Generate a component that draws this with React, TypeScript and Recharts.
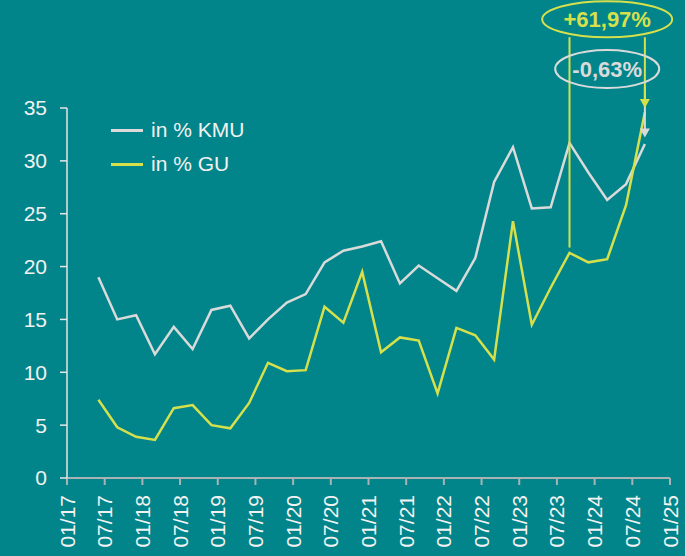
import React from "react";
import { LineChart, Line, XAxis, YAxis, Legend, ReferenceLine, ReferenceDot } from "recharts";

// months since 01/2017, one point per quarter
const months = [5, 8, 11, 14, 17, 20, 23, 26, 29, 32, 35, 38, 41, 44, 47, 50, 53, 56, 59, 62, 65, 68, 71, 74, 77, 80, 83, 86, 89, 92];
const kmu = [19.0, 15.0, 15.4, 11.7, 14.3, 12.2, 15.9, 16.3, 13.2, 15.0, 16.6, 17.4, 20.4, 21.5, 21.9, 22.4, 18.4, 20.1, 18.9, 17.7, 20.8, 28.0, 31.3, 25.5, 25.6, 31.7, 28.9, 26.3, 27.8, 31.6];
const gu = [7.4, 4.8, 3.9, 3.6, 6.6, 6.9, 5.0, 4.7, 7.1, 10.9, 10.1, 10.2, 16.2, 14.7, 19.5, 11.9, 13.3, 13.0, 8.0, 14.2, 13.5, 11.2, 24.3, 14.5, 18.0, 21.3, 20.4, 20.7, 25.8, 34.6];

const xTickMonths = [0, 6, 12, 18, 24, 30, 36, 42, 48, 54, 60, 66, 72, 78, 84, 90, 96];
const xTickLabels = ["01/17", "07/17", "01/18", "07/18", "01/19", "07/19", "01/20", "07/20", "01/21", "07/21", "01/22", "07/22", "01/23", "07/23", "01/24", "07/24", "01/25"];
const yTicks = [0, 5, 10, 15, 20, 25, 30, 35];

const seriesNames = ["in % KMU", "in % GU"];
const guChangeLabel = "+61,97%";
const kmuChangeLabel = "-0,63%";

const BG = "#01858a";
const GREY = "#dadada";
const YELLOW = "#d6e04c";
const TEXT = "#f2f2f2";
const FONT = "'Liberation Sans', Arial, sans-serif";

const data = months.map((m, i) => ({ month: m, kmu: kmu[i], gu: gu[i] }));

function XTick(props: any) {
  const { x, y, payload } = props;
  const idx = xTickMonths.indexOf(payload.value);
  return (
    <text
      x={x}
      y={y}
      transform={`rotate(-90 ${x} ${y})`}
      textAnchor="end"
      dy="0.36em"
      fill={TEXT}
      fontSize={21}
      fontFamily={FONT}
    >
      {xTickLabels[idx]}
    </text>
  );
}

function ovalLabel(text: string, color: string, rx: number, ry: number) {
  return (props: any) => (
    <g>
      <ellipse cx={props.cx} cy={props.cy} rx={rx} ry={ry} fill="none" stroke={color} strokeWidth={2} />
      <text
        x={props.cx}
        y={props.cy}
        dy="0.36em"
        textAnchor="middle"
        fill={color}
        fontSize={22}
        fontWeight="bold"
        fontFamily={FONT}
      >
        {text}
      </text>
    </g>
  );
}

function arrowLine(color: string, head: boolean) {
  return (props: any) => {
    const { x1, y1, x2, y2 } = props;
    return (
      <g>
        <line x1={x1} y1={y1} x2={x2} y2={head ? y2 - 6 : y2} stroke={color} strokeWidth={2} />
        {head && <polygon points={`${x2 - 5},${y2 - 9} ${x2 + 5},${y2 - 9} ${x2},${y2}`} fill={color} />}
      </g>
    );
  };
}

function LegendContent() {
  const colors = [GREY, YELLOW];
  return (
    <div style={{ fontFamily: FONT, fontSize: 21, color: TEXT }}>
      {seriesNames.map((n, i) => (
        <div key={n} style={{ display: "flex", alignItems: "center", height: 34 }}>
          <span style={{ display: "inline-block", width: 32, height: 3, background: colors[i], marginRight: 8 }} />
          <span>{n}</span>
        </div>
      ))}
    </div>
  );
}

export default function App() {
  return (
    <div style={{ position: "absolute", left: 0, top: 0, width: 685, height: 556, background: BG }}>
      <LineChart width={685} height={556} data={data} margin={{ top: 108, right: 15, bottom: 0, left: 0 }}>
        <XAxis
          dataKey="month"
          type="number"
          domain={[0, 96]}
          ticks={xTickMonths}
          interval={0}
          height={78}
          stroke="#a9b3b3"
          strokeWidth={2}
          tickSize={7}
          tickMargin={10}
          tick={<XTick />}
        />
        <YAxis
          domain={[0, 35]}
          ticks={yTicks}
          width={67}
          stroke="#e6e6e6"
          strokeWidth={1.5}
          tickSize={7}
          tickMargin={13}
          tick={{ fill: TEXT, fontSize: 21, fontFamily: FONT }}
        />
        <Legend
          layout="horizontal"
          align="center"
          verticalAlign="middle"
          content={<LegendContent />}
          wrapperStyle={{ left: 111, top: 113, width: 200, height: 70 }}
        />
        <Line type="linear" dataKey="kmu" stroke={GREY} strokeWidth={2.5} dot={false} isAnimationActive={false} />
        <Line type="linear" dataKey="gu" stroke={YELLOW} strokeWidth={2.5} dot={false} isAnimationActive={false} />
        <ReferenceLine
          segment={[{ x: 80, y: 41.7 }, { x: 80, y: 21.8 }]}
          ifOverflow="visible"
          shape={arrowLine(YELLOW, false)}
        />
        <ReferenceLine
          segment={[{ x: 92, y: 37.0 }, { x: 92, y: 32.2 }]}
          ifOverflow="visible"
          shape={arrowLine(GREY, true)}
        />
        <ReferenceLine
          segment={[{ x: 92, y: 41.7 }, { x: 92, y: 35.0 }]}
          ifOverflow="visible"
          shape={arrowLine(YELLOW, true)}
        />
        <ReferenceDot x={86} y={43.4} ifOverflow="visible" shape={ovalLabel(guChangeLabel, YELLOW, 65, 18)} />
        <ReferenceDot x={86} y={38.7} ifOverflow="visible" shape={ovalLabel(kmuChangeLabel, GREY, 52, 19)} />
      </LineChart>
    </div>
  );
}
